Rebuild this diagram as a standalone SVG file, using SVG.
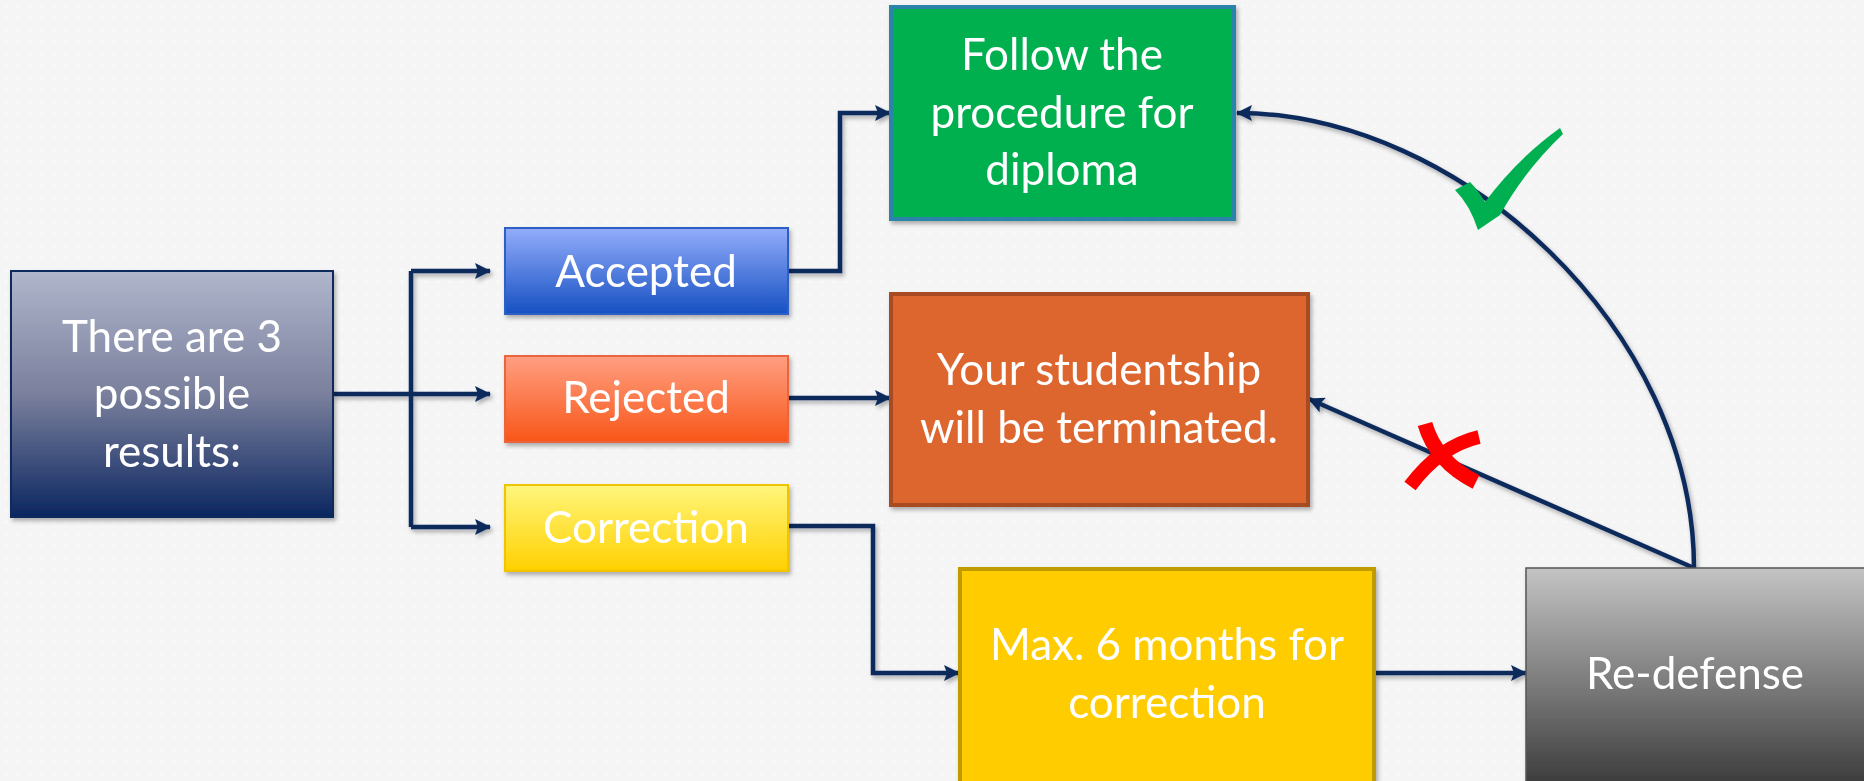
<svg xmlns="http://www.w3.org/2000/svg" width="1864" height="781" viewBox="0 0 1864 781">
<defs>
<pattern id="dots" width="12" height="12" patternUnits="userSpaceOnUse"><circle cx="6" cy="6" r="1" fill="#ffffff"/></pattern>
<linearGradient id="gMain" x1="0" y1="0" x2="0" y2="1"><stop offset="0" stop-color="#b0b6cb"/><stop offset="0.5" stop-color="#7a809d"/><stop offset="1" stop-color="#0b2660"/></linearGradient>
<linearGradient id="gAcc" x1="0" y1="0" x2="0" y2="1"><stop offset="0" stop-color="#93adfb"/><stop offset="1" stop-color="#1650c2"/></linearGradient>
<linearGradient id="gRej" x1="0" y1="0" x2="0" y2="1"><stop offset="0" stop-color="#ff9f82"/><stop offset="1" stop-color="#f85618"/></linearGradient>
<linearGradient id="gCor" x1="0" y1="0" x2="0" y2="1"><stop offset="0" stop-color="#fff67c"/><stop offset="1" stop-color="#ffd000"/></linearGradient>
<linearGradient id="gRed" x1="0" y1="0" x2="0" y2="1"><stop offset="0" stop-color="#c4c4c4"/><stop offset="1" stop-color="#3a3a3a"/></linearGradient>
<filter id="sh" x="-10%" y="-10%" width="130%" height="130%"><feDropShadow dx="2" dy="3" stdDeviation="2" flood-color="#000" flood-opacity="0.3"/></filter>
<marker id="ah" markerUnits="userSpaceOnUse" markerWidth="18" markerHeight="16" refX="15" refY="8" orient="auto"><path d="M0,0 L16,8 L0,16 L3,8 z" fill="#0e2b5c"/></marker>
<style>
.t{font-family:Lato,"Open Sans","Liberation Sans",sans-serif;font-size:44px;fill:#ffffff;text-anchor:middle}
.c{fill:none;stroke:#0e2b5c;stroke-width:4.5;marker-end:url(#ah)}
.ln{fill:none;stroke:#0e2b5c;stroke-width:4.5}
</style>
</defs>
<rect width="1864" height="781" fill="#f5f5f5"/>
<rect width="1864" height="781" fill="url(#dots)"/>

<g id="connectors" filter="url(#sh)">
<path class="ln" d="M333,394 H411 M411,271 V527"/>
<path class="c" d="M411,271 H490"/>
<path class="c" d="M411,394 H490"/>
<path class="c" d="M411,527 H490"/>
<path class="c" d="M788,271 H840 V113 H890"/>
<path class="c" d="M788,398 H890"/>
<path class="c" d="M788,526 H873 V673 H959"/>
<path class="c" d="M1375,673 H1526"/>
<path class="c" d="M1694,568 C1694,330 1460,113 1237,113"/>
<path class="c" d="M1694,568 L1309,399"/>
</g>

<g id="main" filter="url(#sh)">
<rect x="11" y="271" width="322" height="246" fill="url(#gMain)" stroke="#0c2a5c" stroke-width="2"/>
<text class="t" x="172" y="352">There are 3</text>
<text class="t" x="172" y="409">possible</text>
<text class="t" x="172" y="467">results:</text>
</g>

<g id="accepted" filter="url(#sh)">
<rect x="505" y="228" width="283" height="86" fill="url(#gAcc)" stroke="#2e5fc4" stroke-width="2"/>
<text class="t" x="646" y="287">Accepted</text>
</g>

<g id="rejected" filter="url(#sh)">
<rect x="505" y="356" width="283" height="86" fill="url(#gRej)" stroke="#e8653c" stroke-width="2"/>
<text class="t" x="646" y="413">Rejected</text>
</g>

<g id="correction" filter="url(#sh)">
<rect x="505" y="485" width="283" height="86" fill="url(#gCor)" stroke="#f0c400" stroke-width="2"/>
<text class="t" x="646" y="543">Correction</text>
</g>

<g id="diploma" filter="url(#sh)">
<rect x="891" y="7" width="343" height="212" fill="#00b050" stroke="#2b84aa" stroke-width="4"/>
<text class="t" x="1062" y="70">Follow the</text>
<text class="t" x="1062" y="128">procedure for</text>
<text class="t" x="1062" y="185">diploma</text>
</g>

<g id="terminated" filter="url(#sh)">
<rect x="891" y="294" width="417" height="211" fill="#dd652f" stroke="#a84b21" stroke-width="4"/>
<text class="t" x="1099" y="385">Your studentship</text>
<text class="t" x="1099" y="443">will be terminated.</text>
</g>

<g id="max" filter="url(#sh)">
<rect x="960" y="569" width="414" height="218" fill="#ffcc05" stroke="#bf9b00" stroke-width="4"/>
<text class="t" x="1167" y="660">Max. 6 months for</text>
<text class="t" x="1167" y="718">correction</text>
</g>

<g id="redefense" filter="url(#sh)">
<rect x="1526" y="568" width="345" height="220" fill="url(#gRed)" stroke="#555555" stroke-width="1.5"/>
<text class="t" x="1695" y="689">Re-defense</text>
</g>

<g id="check">
<path d="M1455,190 L1470,182 Q1478,190 1485,202 Q1518,158 1560,128 L1563,134 Q1525,170 1500,215 L1478,230 Q1470,205 1455,190 Z" fill="#00b050"/>
</g>
<g id="cross" fill="none" stroke="#ff0000">
<path d="M1425,424 Q1436,462 1476,482" stroke-width="15"/>
<path d="M1479,437 Q1440,446 1410,486" stroke-width="14"/>
</g>
</svg>
